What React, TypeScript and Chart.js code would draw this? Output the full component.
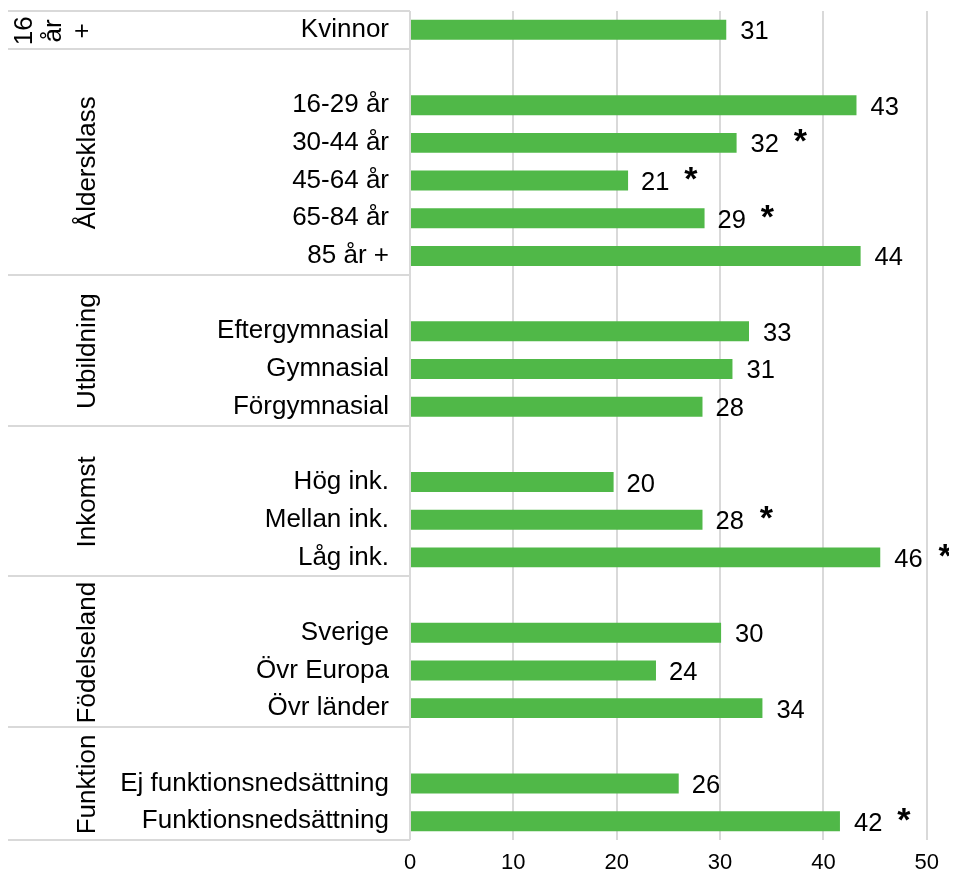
import React, { useEffect, useRef } from 'react';
import { Chart, registerables } from 'chart.js';

Chart.register(...registerables);

const categories = [
  'Kvinnor', '',
  '16-29 år', '30-44 år', '45-64 år', '65-84 år', '85 år +', '',
  'Eftergymnasial', 'Gymnasial', 'Förgymnasial', '',
  'Hög ink.', 'Mellan ink.', 'Låg ink.', '',
  'Sverige', 'Övr Europa', 'Övr länder', '',
  'Ej funktionsnedsättning', 'Funktionsnedsättning',
];
const values = [
  30.6, null,
  43.2, 31.6, 21.1, 28.5, 43.6, null,
  32.8, 31.2, 28.3, null,
  19.7, 28.3, 45.5, null,
  30.1, 23.8, 34.1, null,
  26.0, 41.6,
];
const valueLabels = [
  '31', '',
  '43', '32', '21', '29', '44', '',
  '33', '31', '28', '',
  '20', '28', '46', '',
  '30', '24', '34', '',
  '26', '42',
];
const significant = [
  false, false,
  false, true, true, true, false, false,
  false, false, false, false,
  false, true, true, false,
  false, false, false, false,
  false, true,
];
const groupNames = ['16 år +', 'Åldersklass', 'Utbildning', 'Inkomst', 'Födelseland', 'Funktion'];
const groupRowCounts = [1, 6, 4, 4, 4, 3];
const xTickValues = [0, 10, 20, 30, 40, 50];

const FONT = '"Liberation Sans", Arial, sans-serif';
const BAR_COLOR = '#50b848';
const GRID_COLOR = '#d9d9d9';

const overlayPlugin = {
  id: 'overlay',
  afterDraw(chart: any) {
    const { ctx, chartArea, scales } = chart;
    const xs = scales.x;
    const ys = scales.y;
    const rowH = (chartArea.bottom - chartArea.top) / categories.length;

    // group separators and group labels
    ctx.save();
    ctx.strokeStyle = GRID_COLOR;
    ctx.lineWidth = 2;
    let start = 0;
    const drawH = (y: number) => {
      ctx.beginPath();
      ctx.moveTo(0, y);
      ctx.lineTo(chartArea.left, y);
      ctx.stroke();
    };
    groupRowCounts.forEach((count, gi) => {
      const end = start + count - 1;
      const top = ys.getPixelForValue(start) - rowH / 2;
      const bottom = ys.getPixelForValue(end) + rowH / 2;
      drawH(Math.round(top));
      if (gi === groupRowCounts.length - 1) drawH(Math.round(bottom));
      const cy = (top + bottom) / 2 + 1;
      ctx.fillStyle = '#000';
      ctx.font = `26px ${FONT}`;
      ctx.textAlign = 'center';
      ctx.textBaseline = 'middle';
      const name = groupNames[gi];
      const w = ctx.measureText(name).width;
      let lines = [name];
      if (w > bottom - top - 4) lines = name.split(' ');
      if (lines.length === 1) {
        ctx.save();
        ctx.translate(80, cy);
        ctx.rotate(-Math.PI / 2);
        ctx.fillText(name, 0, 0);
        ctx.restore();
      } else {
        lines.forEach((ln, li) => {
          ctx.save();
          ctx.translate(17 + li * 29, cy);
          ctx.rotate(-Math.PI / 2);
          ctx.fillText(ln, 0, 0);
          ctx.restore();
        });
      }
      start += count;
    });

    // value labels and significance stars
    ctx.textAlign = 'left';
    ctx.textBaseline = 'alphabetic';
    ctx.fillStyle = '#000';
    values.forEach((v, i) => {
      if (v === null) return;
      const cy = ys.getPixelForValue(i);
      const barEnd = xs.getPixelForValue(v);
      ctx.font = `25.5px ${FONT}`;
      const label = valueLabels[i];
      const m = ctx.measureText(label);
      const nx = barEnd + 14 + m.actualBoundingBoxLeft;
      const ny = cy + 0.5 - (m.actualBoundingBoxDescent - m.actualBoundingBoxAscent) / 2;
      ctx.fillText(label, nx, ny);
      const numRight = nx + m.actualBoundingBoxRight;
      if (significant[i]) {
        ctx.font = `bold 34px ${FONT}`;
        const sm = ctx.measureText('*');
        const sx = numRight + 16 + sm.actualBoundingBoxLeft;
        const sy = cy - 7 - (sm.actualBoundingBoxDescent - sm.actualBoundingBoxAscent) / 2;
        ctx.fillText('*', sx, sy);
      }
    });
    ctx.restore();
  },
};

export default function App() {
  const canvasRef = useRef<HTMLCanvasElement | null>(null);

  useEffect(() => {
    if (!canvasRef.current) return;
    const chart = new Chart(canvasRef.current, {
      type: 'bar',
      data: {
        labels: categories,
        datasets: [
          {
            data: values as any,
            backgroundColor: BAR_COLOR,
            borderWidth: 0,
            barPercentage: 0.53,
            categoryPercentage: 1,
          },
        ],
      },
      options: {
        indexAxis: 'y',
        animation: false,
        responsive: true,
        maintainAspectRatio: false,
        layout: { padding: { top: 3, right: 22, bottom: 0, left: 0 } },
        plugins: {
          legend: { display: false },
          tooltip: { enabled: false },
        },
        scales: {
          x: {
            type: 'linear',
            min: 0,
            max: 50,
            afterBuildTicks: (scale: any) => {
              scale.ticks = xTickValues.map((v) => ({ value: v }));
            },
            afterFit: (scale: any) => {
              scale.height = 30;
              scale.paddingTop = 0;
              scale.paddingBottom = 0;
            },
            grid: { color: GRID_COLOR, lineWidth: 2, drawTicks: false },
            border: { display: false },
            ticks: {
              color: '#000',
              font: { family: FONT, size: 22 },
              padding: 10,
              maxRotation: 0,
            },
          },
          y: {
            type: 'category',
            afterFit: (scale: any) => {
              scale.width = 402;
              scale.paddingTop = 0;
              scale.paddingBottom = 0;
            },
            grid: { display: false, drawTicks: false },
            border: { display: false },
            ticks: {
              color: '#000',
              font: { family: FONT, size: 26 },
              padding: 21,
              autoSkip: false,
            },
          },
        },
      },
      plugins: [overlayPlugin],
    });
    return () => chart.destroy();
  }, []);

  return (
    <div style={{ width: 941, height: 862, position: 'relative' }}>
      <canvas ref={canvasRef} />
    </div>
  );
}
